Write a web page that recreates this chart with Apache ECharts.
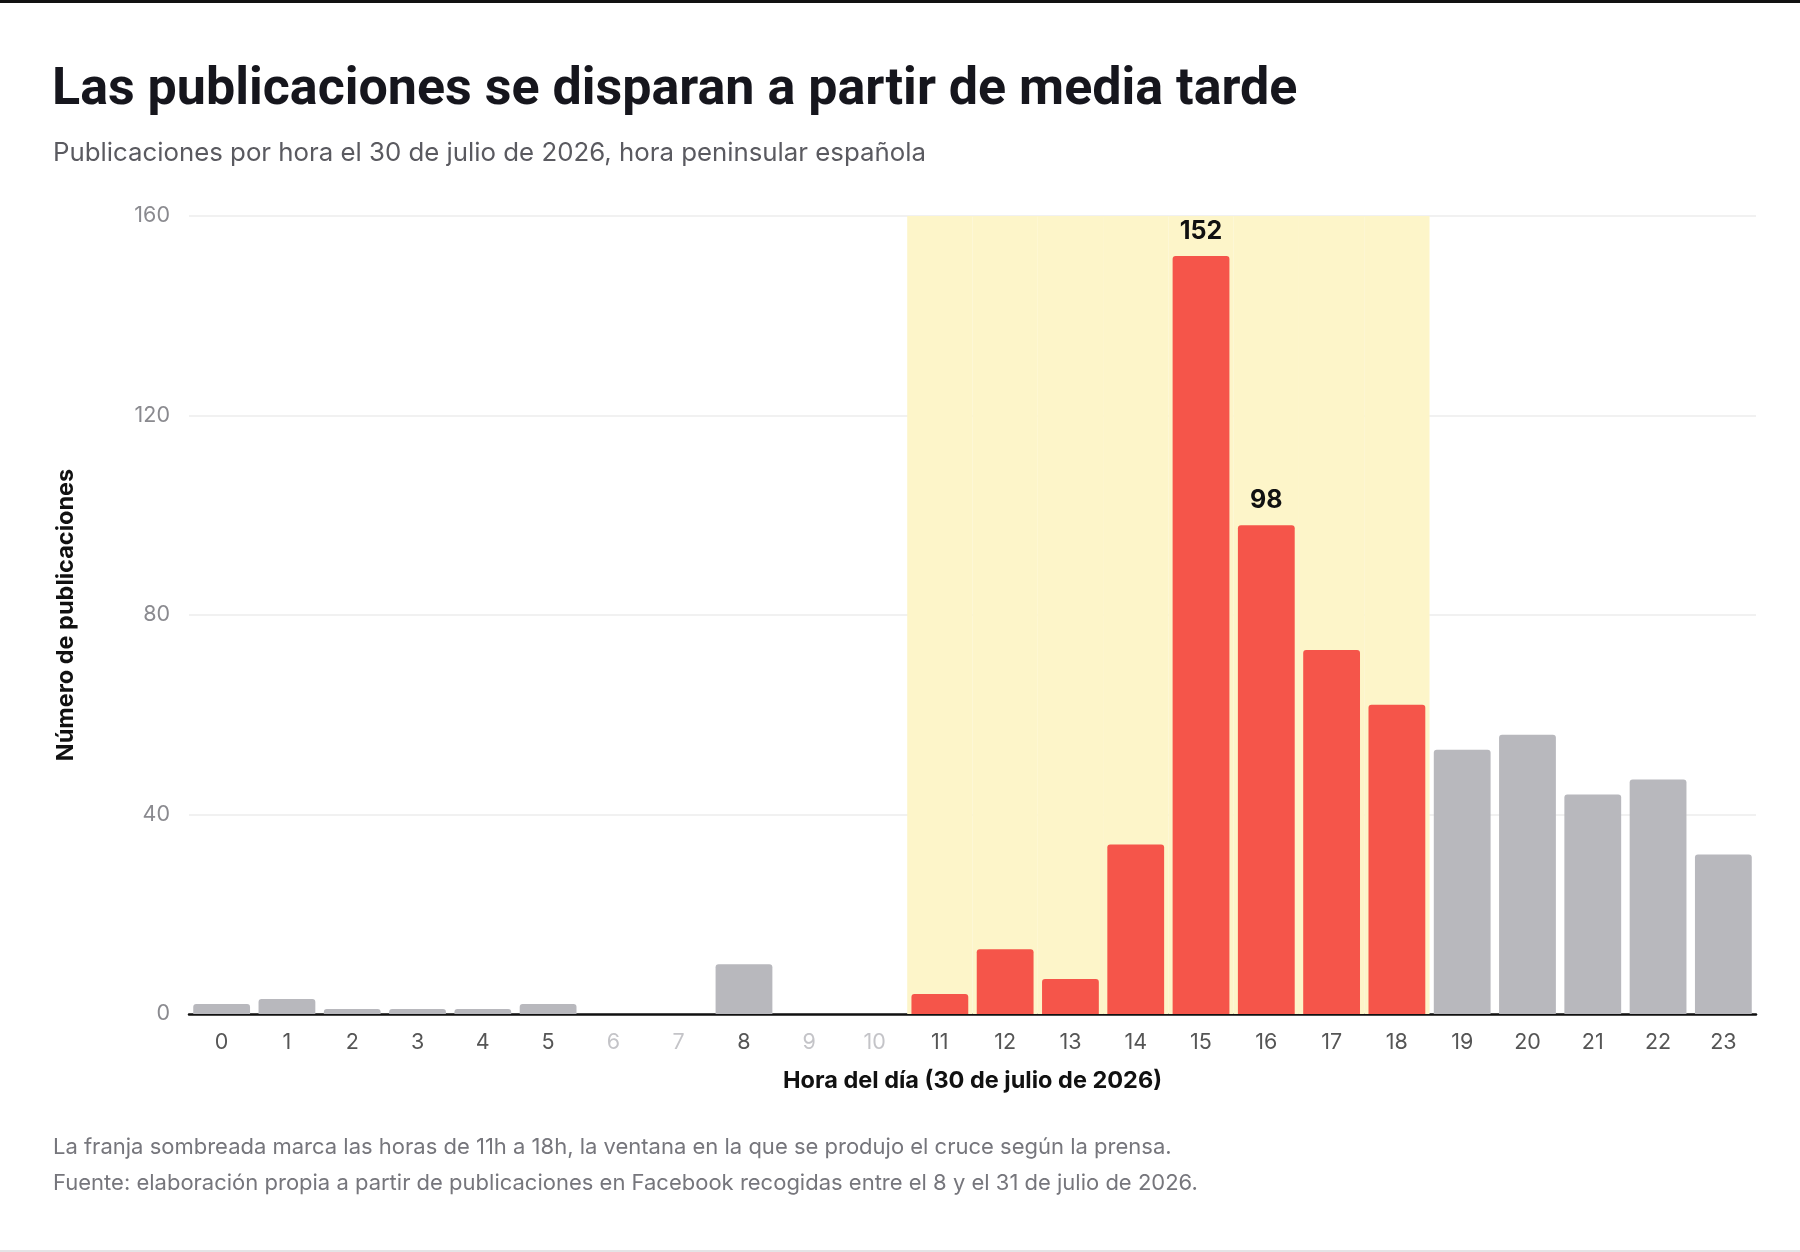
<!DOCTYPE html>
<html>
<head>
<meta charset="utf-8">
<script src="https://cdn.jsdelivr.net/npm/echarts@6/dist/echarts.min.js"></script>
<style>
  html, body { margin: 0; padding: 0; background: #fff; }
  #chart { width: 1800px; height: 1247px; border-top: 3px solid #111; border-bottom: 2px solid #e4e4e6; }
</style>
</head>
<body>
<div id="chart"></div>
<script>
// horas del día y publicaciones por hora
const hours = ['0', '1', '2', '3', '4', '5', '6', '7', '8', '9', '10', '11',
    '12', '13', '14', '15', '16', '17', '18', '19', '20', '21', '22', '23'];
const posts = [2, 3, 1, 1, 1, 2, 0, 0, 10, 0, 0, 4, 13, 7, 34, 152, 98, 73, 62, 53, 56, 44, 47, 32];
// franja del cruce según la prensa (11h a 18h)
const windowHours = ['11', '12', '13', '14', '15', '16', '17', '18'];
const labelledHours = ['15', '16'];
const yTicks = [0, 40, 80, 120, 160];

const RED = '#f5554a';
const GREY = '#b8b8bd';
const font = 'Inter, "Noto Sans", sans-serif';

const chart = echarts.init(document.getElementById('chart'));

const yMax = yTicks[yTicks.length - 1];

chart.setOption({
    animation: false,
    textStyle: { fontFamily: font },
    title: [
        {
            text: 'Las publicaciones se disparan a partir de media tarde',
            left: 47,
            top: 57,
            textStyle: { fontSize: 52, fontWeight: 'bold', color: '#16161d', fontFamily: 'Roboto, sans-serif' },
        },
        {
            text: 'Publicaciones por hora el 30 de julio de 2026, hora peninsular española',
            left: 48,
            top: 132,
            textStyle: { fontSize: 25.8, fontWeight: 'normal', color: '#5a5a60', fontFamily: font },
        },
        {
            text: 'La franja sombreada marca las horas de 11h a 18h, la ventana en la que se produjo el cruce según la prensa.\nFuente: elaboración propia a partir de publicaciones en Facebook recogidas entre el 8 y el 31 de julio de 2026.',
            left: 48,
            top: 1121,
            textStyle: { fontSize: 22, fontWeight: 'normal', color: '#76767c', lineHeight: 36, fontFamily: font },
        },
    ],
    grid: { left: 189, right: 44, top: 213, bottom: 236 },
    xAxis: [
        {
            type: 'category',
            data: hours,
            name: 'Hora del día (30 de julio de 2026)',
            nameLocation: 'middle',
            nameGap: 55,
            nameTextStyle: { fontSize: 23.5, fontWeight: 'bold', color: '#111' },
            axisLine: { lineStyle: { color: '#111', width: 2.5 } },
            axisTick: { show: false },
            axisLabel: {
                fontSize: 21.5,
                margin: 18,
                color: (value, index) => (posts[index] === 0 ? '#c4c4c8' : '#555'),
            },
        },
        {
            type: 'category',
            data: hours,
            show: false,
        },
    ],
    yAxis: {
        type: 'value',
        min: 0,
        max: yMax,
        interval: 40,
        name: 'Número de publicaciones',
        nameLocation: 'middle',
        nameGap: 111,
        nameTextStyle: { fontSize: 23.5, fontWeight: 'bold', color: '#111' },
        axisLine: { show: false },
        axisTick: { show: false },
        axisLabel: { fontSize: 21.5, color: '#8a8a8f', margin: 19 },
        splitLine: { lineStyle: { color: '#ececec', width: 1.5 } },
    },
    series: [
        {
            // franja sombreada
            type: 'bar',
            xAxisIndex: 1,
            barWidth: '100%',
            silent: true,
            z: 1,
            itemStyle: { color: '#fdf5c9' },
            data: hours.map((h) => (windowHours.includes(h) ? yMax : null)),
        },
        {
            type: 'bar',
            xAxisIndex: 0,
            barCategoryGap: '13%',
            z: 3,
            data: posts.map((v, i) => ({
                value: v,
                itemStyle: {
                    color: windowHours.includes(hours[i]) ? RED : GREY,
                    borderRadius: [3, 3, 0, 0],
                },
                label: {
                    show: labelledHours.includes(hours[i]),
                    position: 'top',
                    distance: 12,
                    fontSize: 25,
                    fontWeight: 'bold',
                    color: '#111',
                },
            })),
        },
    ],
});
</script>
</body>
</html>
